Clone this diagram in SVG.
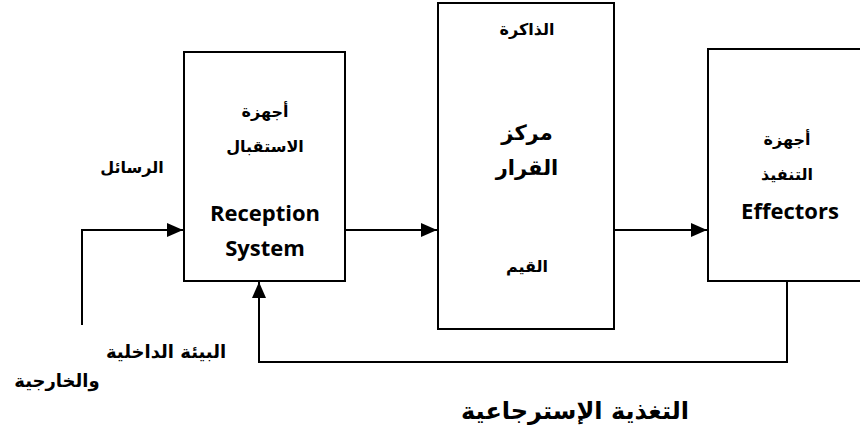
<svg xmlns="http://www.w3.org/2000/svg" width="860" height="440" viewBox="0 0 860 440">
<style>
.box{fill:#fff;stroke:#000;stroke-width:2}
.ln{fill:none;stroke:#000;stroke-width:2}
.ar{font-family:"DejaVu Sans","Liberation Sans",sans-serif;font-weight:bold;font-size:16px;fill:#000;text-anchor:middle}
.big{font-size:21px}
.lg{font-size:18px}
.en{font-family:"Open Sans","Liberation Sans",sans-serif;font-weight:bold;font-size:22px;fill:#000;text-anchor:middle}
</style>
<defs>
<marker id="arrL" markerWidth="16" markerHeight="14" refX="16" refY="7" orient="auto" markerUnits="userSpaceOnUse" viewBox="0 0 16 14">
<path d="M0,0 L16,7 L0,14 Z" fill="#000"/>
</marker>
</defs>
<g id="connectors">
<path class="ln" d="M82,325 V230 H183" marker-end="url(#arrL)"/>
<path class="ln" d="M345,230 H437" marker-end="url(#arrL)"/>
<path class="ln" d="M614,230 H707" marker-end="url(#arrL)"/>
<path class="ln" d="M787,281 V362 H259 V282" marker-end="url(#arrL)"/>
</g>
<g id="reception">
<rect class="box" x="184" y="52" width="161" height="229"/>
<text class="ar" x="265" y="117" direction="rtl">أجهزة</text>
<text class="ar" x="265" y="152" direction="rtl">الاستقبال</text>
<text class="en" x="265" y="221">Reception</text>
<text class="en" x="265" y="256">System</text>
</g>
<g id="decision">
<rect class="box" x="438" y="3" width="176" height="326"/>
<text class="ar" x="527" y="35" direction="rtl">الذاكرة</text>
<text class="ar big" x="527" y="140" direction="rtl">مركز</text>
<text class="ar big" x="527" y="175" direction="rtl">القرار</text>
<text class="ar" x="527" y="272" direction="rtl">القيم</text>
</g>
<g id="effectors">
<rect class="box" x="708" y="49" width="160" height="232"/>
<text class="ar" x="787" y="145" direction="rtl">أجهزة</text>
<text class="ar" x="787" y="180" direction="rtl">التنفيذ</text>
<text class="en" x="790" y="219">Effectors</text>
</g>
<g id="labels">
<text class="ar" x="132" y="173" direction="rtl">الرسائل</text>
<text class="ar lg" x="166" y="358" direction="rtl">البيئة الداخلية</text>
<text class="ar lg" x="57" y="387" direction="rtl">والخارجية</text>
<text class="ar" x="575" y="419" style="font-size:24px" direction="rtl">التغذية الإسترجاعية</text>
</g>
</svg>
